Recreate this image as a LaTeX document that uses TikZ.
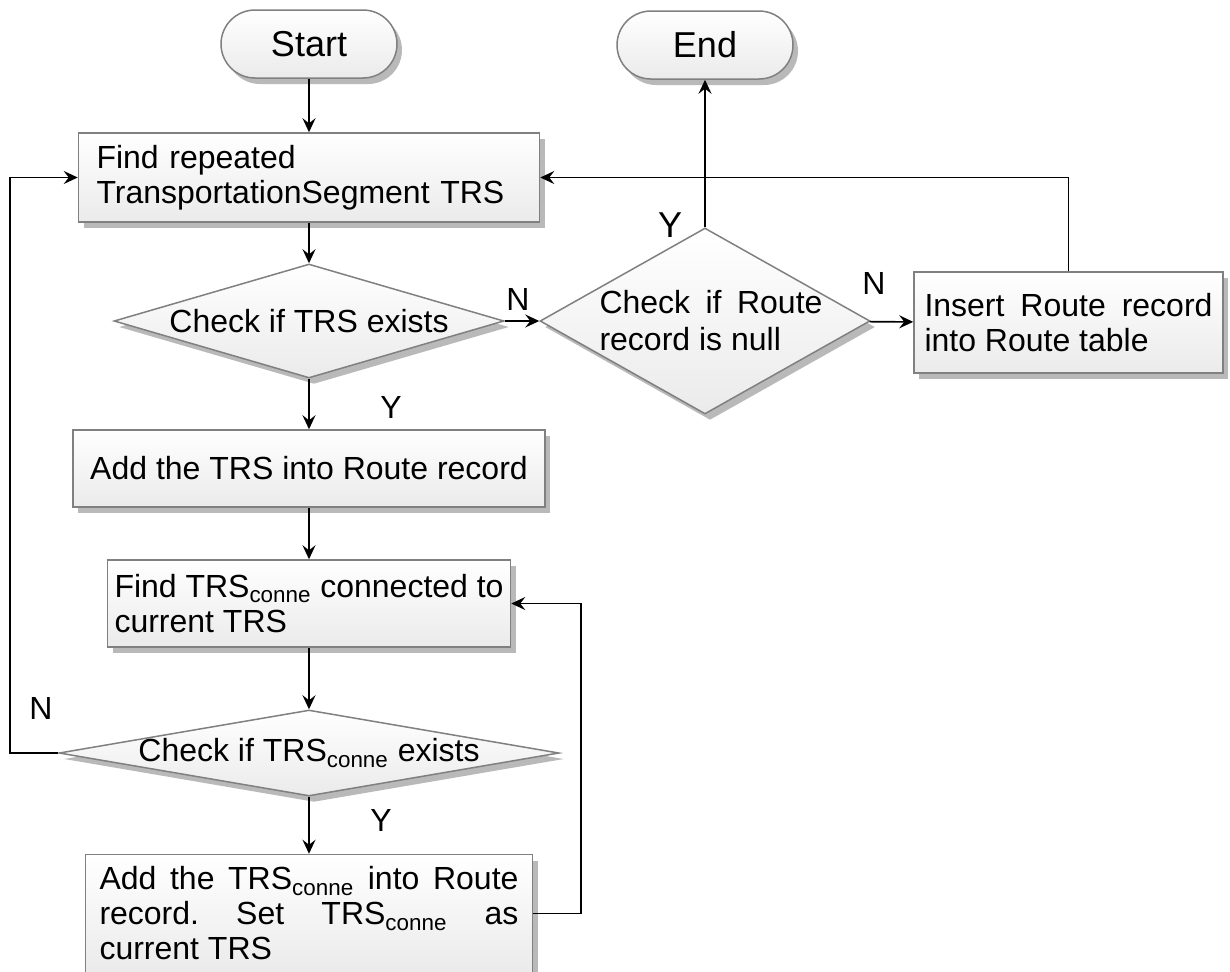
\documentclass[tikz,border=0pt]{standalone}
\usepackage{fontspec}
\setmainfont{Liberation Sans}
\usetikzlibrary{shapes.geometric,shadows,arrows.meta}
\newcommand\cn{\textsubscript{conne}}
\frenchspacing
\begin{document}
\begin{tikzpicture}[x=0.5pt,y=-0.5pt,
  base/.style={draw=gray, line width=0.75pt, top color=white, bottom color=gray!16,
    drop shadow={shadow xshift=2.5pt, shadow yshift=-3pt, fill=gray!55, opacity=1},
    font=\fontsize{16}{17.5}\selectfont, inner sep=0pt},
  box/.style={base, rectangle},
  term/.style={base, rectangle, rounded corners=17pt, minimum width=88pt, minimum height=34pt,
    font=\fontsize{18}{20}\selectfont},
  dec/.style={base, diamond},
  arr/.style={line width=0.8pt, -{Stealth[length=7pt,width=6.5pt,inset=2.5pt]}},
  lbl/.style={font=\fontsize{16}{18}\selectfont, inner sep=0pt},
]
\useasboundingbox (0,0) rectangle (1230,971);
\clip (0,0) rectangle (1230,971);

\node[term] (start) at (309,44) {Start};
\node[term] (end) at (705,45) {End};

\node[box, minimum width=230.5pt, minimum height=44.5pt, text width=212.5pt, align=left]
  (find) at (309,177.5) {Find repeated\\TransportationSegment TRS};

\node[dec, minimum width=195pt, minimum height=57pt] (d1) at (309,321)
  {\makebox[0pt]{Check if TRS exists}};

\node[dec, minimum width=165pt, minimum height=93pt, font=\fontsize{16}{18.5}\selectfont]
  (route) at (705,321)
  {\makebox[0pt]{\hspace*{6pt}\parbox{111.5pt}{Check if Route record is null}}};

\node[box, minimum width=154.5pt, minimum height=50.5pt, text width=144pt, align=justify]
  (ins) at (1068.5,322.5) {Insert Route record\linebreak into Route table};

\node[box, minimum width=236pt, minimum height=38.5pt] (add) at (309,468.5)
  {Add the TRS into Route record};

\node[box, minimum width=201.5pt, minimum height=43.5pt, text width=194.5pt, align=justify]
  (find2) at (309,603.5) {Find TRS\cn{} connected to\linebreak current TRS};

\node[dec, minimum width=250pt, minimum height=43pt] (d2) at (309,753)
  {\makebox[0pt]{Check if TRS\cn{} exists}};

\node[box, minimum width=223.5pt, minimum height=59pt, text width=209.5pt, align=justify]
  (bot) at (309,913.5) {Add the TRS\cn{} into Route\linebreak record. Set TRS\cn{} as\linebreak current TRS};

\coordinate (lc) at (10,753);
\coordinate (rc) at (581,913.5);

\draw[arr] (start) -- (find);
\draw[arr] (find) -- (d1);
\draw[arr] (d1) -- (route);
\draw[arr] (d1) -- (add);
\draw[arr] (add) -- (find2);
\draw[arr] (find2) -- (d2);
\draw[arr] (d2) -- (bot);
\draw[arr] (route) -- (end);
\draw[arr] (route) -- (ins);
\draw[arr] (d2.west) -- (lc) |- (find.west);
\draw[arr] (bot.east) -- (rc) |- (find2.east);
\draw[arr] (ins.north) |- (find.east);

\node[lbl] (n1) at (518,299) {N};
\node[lbl] (y1) at (391,407) {Y};
\node[lbl] (y2) at (381,820) {Y};
\node[lbl] (n2) at (41,708) {N};
\node[lbl] (n3) at (874,283) {N};
\node[lbl, font=\fontsize{18}{20}\selectfont] (y3) at (670,225) {Y};
\end{tikzpicture}
\end{document}
